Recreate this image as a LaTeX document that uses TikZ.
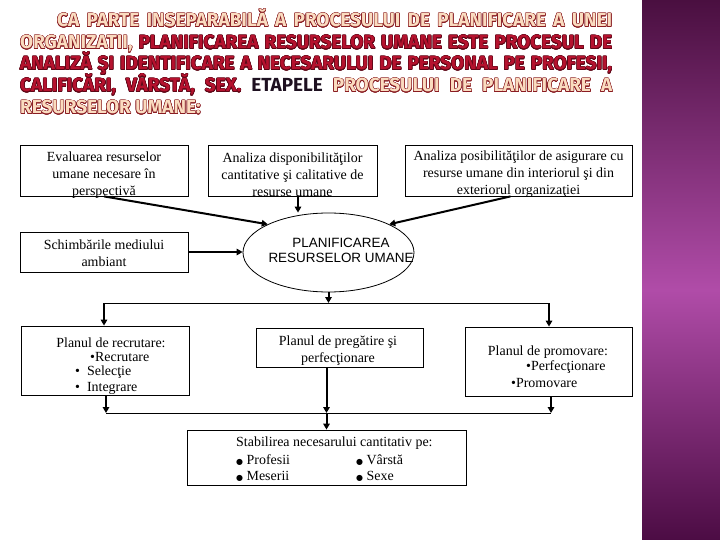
\documentclass[tikz,border=0pt]{standalone}
\usepackage{fontspec}
\setmainfont{Liberation Serif}
\newfontfamily\titlefont{Fira Sans}
\newfontfamily\elfont{Liberation Sans}
\newfontfamily\dejavu{DejaVu Sans}
\usepackage[copies]{contour}
\contourlength{0.5pt}
\usetikzlibrary{arrows.meta,shapes.geometric}
\definecolor{olfill}{HTML}{FADCC0}
\definecolor{olline}{HTML}{8A1C22}
\definecolor{redtxt}{HTML}{B5122E}
\definecolor{redline}{HTML}{5E0616}
\definecolor{etape}{HTML}{1E1020}
\definecolor{pA}{HTML}{4A0F40}
\definecolor{pB}{HTML}{B04CA8}
\definecolor{pC}{HTML}{4C0C44}
\newcommand\OL[1]{{\color{olfill}\contour{olline}{#1}}}
\newcommand\RD[1]{{\color{redtxt}\contour{redline}{#1}}}
\newcommand\BK[1]{{\color{etape}#1}}
\newcommand\bigbul{{\dejavu\fontsize{8}{8}\selectfont ●}}
\tikzset{
  tline/.style={anchor=base west, inner sep=0pt, font=\titlefont\bfseries\fontsize{19}{21}\selectfont},
  boxnode/.style={draw, line width=0.8bp, rectangle, inner sep=0pt},
  btxt/.style={inner sep=0pt, align=center, font=\fontsize{14}{17}\selectfont},
  ltxt/.style={inner sep=0pt, anchor=west, font=\fontsize{14}{16}\selectfont},
  arr/.style={line width=2bp, -{Triangle[length=6bp,width=6.5bp]}},
  hline/.style={line width=1bp},
}
\begin{document}
\begin{tikzpicture}[x=1bp,y=-1bp]
\useasboundingbox (0,0) rectangle (720,540);
\fill[white] (0,0) rectangle (720,540);
\begin{scope}[y=1bp]
\shade[top color=pA, bottom color=pB] (642,0) rectangle (720,-290);
\shade[top color=pB, bottom color=pC] (642,-290) rectangle (720,-540);
\end{scope}

% title
\node[tline] (t1) at (57,27) {\makebox[555bp][s]{\OL{CA} \OL{PARTE} \OL{INSEPARABILĂ} \OL{A} \OL{PROCESULUI} \OL{DE} \OL{PLANIFICARE} \OL{A} \OL{UNEI}}};
\node[tline] (t2) at (20,49) {\makebox[592bp][s]{\OL{ORGANIZATII,} \RD{PLANIFICAREA} \RD{RESURSELOR} \RD{UMANE} \RD{ESTE} \RD{PROCESUL} \RD{DE}}};
\node[tline] (t3) at (20,70) {\makebox[592bp][s]{\RD{ANALIZĂ} \RD{ŞI} \RD{IDENTIFICARE} \RD{A} \RD{NECESARULUI} \RD{DE} \RD{PERSONAL} \RD{PE} \RD{PROFESII,}}};
\node[tline] (t4) at (20,92) {\makebox[592bp][s]{\RD{CALIFICĂRI,} \RD{VÂRSTĂ,} \RD{SEX.} \BK{ETAPELE} \OL{PROCESULUI} \OL{DE} \OL{PLANIFICARE} \OL{A}}};
\node[tline] (t5) at (20,114) {\OL{RESURSELOR} \OL{UMANE:}};

% boxes
\node[boxnode, minimum width=168bp, minimum height=51bp] (b1) at (104,170.5) {};
\node[boxnode, minimum width=169bp, minimum height=51bp] (b2) at (292.5,170.5) {};
\node[boxnode, minimum width=227bp, minimum height=51bp] (b3) at (518.5,170.5) {};
\node[boxnode, minimum width=168bp, minimum height=40bp] (b4) at (104,252) {};
\node[draw, ellipse, line width=0.8bp, minimum width=171bp, minimum height=79bp, inner sep=0pt] (ell) at (328.5,252.5) {};
\node[boxnode, minimum width=168bp, minimum height=69bp] (rec) at (105,360.5) {};
\node[boxnode, minimum width=167bp, minimum height=39bp] (preg) at (339.5,347.5) {};
\node[boxnode, minimum width=167bp, minimum height=69bp] (prom) at (548.5,361.5) {};
\node[boxnode, minimum width=279bp, minimum height=55bp] (bot) at (326.5,457.5) {};

% texts
\node[btxt] (x1) at (104,175) {Evaluarea resurselor\\umane necesare în\\perspectivă};
\node[btxt] (x2) at (292.5,175) {Analiza disponibilităţilor\\cantitative şi calitative de\\resurse umane};
\node[btxt] (x3) at (518.5,174) {Analiza posibilităţilor de asigurare cu\\resurse umane din interiorul şi din\\exteriorul organizaţiei};
\node[btxt] (x4) at (104,253) {Schimbările mediului\\ambiant};
\node[inner sep=0pt, align=center, font=\elfont\fontsize{13.5}{15}\selectfont] (xe) at (341,250.5) {PLANIFICAREA\\RESURSELOR UMANE};
\node[btxt] (xr0) at (111,343) {Planul de recrutare:};
\node[ltxt] (xr1) at (90,357) {•Recrutare};
\node[ltxt] (xr2) at (75,372) {•\ \ Selecţie};
\node[ltxt] (xr3) at (75,388) {•\ \ Integrare};
\node[btxt] (xp) at (338,351) {Planul de pregătire şi\\perfecţionare};
\node[btxt] (xm0) at (548,352) {Planul de promovare:};
\node[ltxt] (xm1) at (526,367) {•Perfecţionare};
\node[ltxt] (xm2) at (511,383) {•Promovare};
\node[ltxt] (xs0) at (236,443) {Stabilirea necesarului cantitativ pe:};
\node[ltxt] (xs1) at (236,460) {\bigbul\ Profesii};
\node[ltxt] (xs2) at (356,460) {\bigbul\ Vârstă};
\node[ltxt] (xs3) at (236,476) {\bigbul\ Meserii};
\node[ltxt] (xs4) at (356,476) {\bigbul\ Sexe};

% coordinates for bus lines
\coordinate (uL) at (104,303);
\coordinate (uM) at (328.5,303);
\coordinate (uR) at (549,303);
\coordinate (lL) at (106,413);
\coordinate (lM) at (326.5,413);
\coordinate (lR) at (551,413);
\coordinate (a2) at (298,196);

% connectors
\draw[arr] (b1.south) -- (ell.north west);
\draw[arr] (a2) -- (a2 |- ell.north);
\draw[arr] ([xshift=-8bp]b3.south) -- (ell.north east);
\draw[arr] (b4.east) -- (b4.east -| ell.west);
\draw[hline] (uL) -- (uR);
\draw[arr] (ell.south) -- (uM);
\draw[arr] (uL) -- (uL |- rec.north);
\draw[arr] (uR) -- (uR |- prom.north);
\draw[hline] (lL) -- (lR);
\draw[arr] (rec.south -| lL) -- (lL);
\draw[arr] (preg.south -| lM) -- (lM);
\draw[arr] (prom.south -| lR) -- (lR);
\draw[arr] (lM) -- (bot.north);
\end{tikzpicture}
\end{document}
